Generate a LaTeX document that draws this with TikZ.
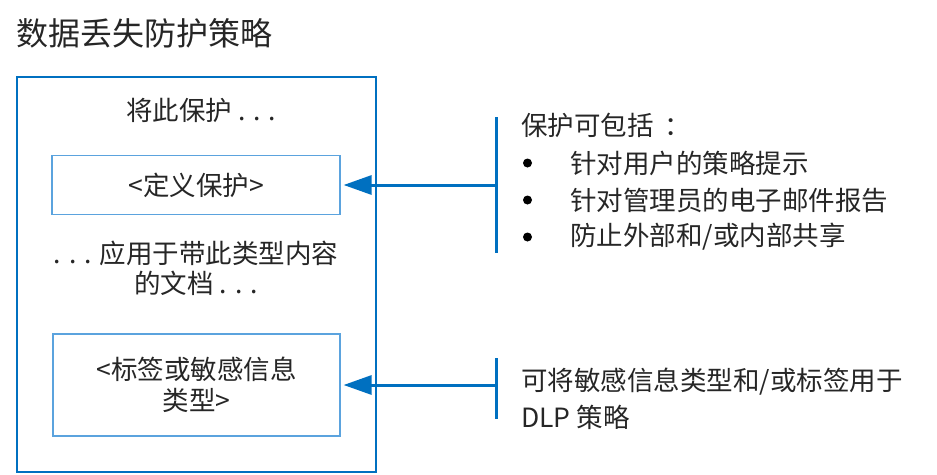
\documentclass[tikz,border=0pt]{standalone}
\usepackage{fontspec}
\setmainfont{Noto Sans CJK SC}
\usetikzlibrary{arrows.meta}
\definecolor{frameblue}{HTML}{0070C0}
\definecolor{boxblue}{HTML}{5BA3DE}
\definecolor{ink}{HTML}{262626}
\begin{document}
\begin{tikzpicture}[x=1pt,y=-1pt,
  every node/.style={text=ink, inner sep=0pt},
  body/.style={font=\fontsize{26.5}{30}\selectfont},
  outerframe/.style={draw=frameblue, line width=2.6pt},
  innerbox/.style={draw=boxblue, line width=1.2pt},
  bar/.style={draw=frameblue, line width=3pt},
  feed/.style={draw=frameblue, line width=3pt,
    -{Triangle[length=28pt,width=19pt]}, shorten >=3pt},
  dot/.style={circle, fill=black, minimum size=9pt}]
  \useasboundingbox (0,0) rectangle (937,474);

  % title
  \node[anchor=west, font=\fontsize{32}{36}\selectfont] (title) at (16,33) {数据丢失防护策略};

  % policy frame and its two placeholders
  \node[outerframe, minimum width=359pt, minimum height=395pt] (frame) at (196.5,274.5) {};
  \node[body] (lead) at (201,110) {将此保护 . . .};
  \node[innerbox, minimum width=288pt, minimum height=59pt, body] (protect) at (196,185) {<定义保护>};
  \node[body, align=center] (applies) at (196,268) {. . . 应用于带此类型内容\\的文档 . . .};
  \node[innerbox, minimum width=287pt, minimum height=102pt, body, align=center,
        font=\fontsize{26.5}{31}\selectfont] (types) at (196.5,385) {<标签或敏感信息\\类型>};

  % callout bars
  \coordinate (bar1top) at (496,117);
  \coordinate (bar1bot) at (496,253);
  \coordinate (bar1mid) at (496,185);
  \coordinate (bar2top) at (496,358);
  \coordinate (bar2bot) at (496,419);
  \coordinate (bar2mid) at (496,385);
  \draw[bar] (bar1top) -- (bar1bot);
  \draw[bar] (bar2top) -- (bar2bot);
  \draw[feed] (bar1mid) -- (protect.east);
  \draw[feed] (bar2mid) -- (types.east);

  % first callout text
  \node[body, anchor=west] (incl) at (521,125) {保护可包括\kern0.4em：};
  \node[dot] (d1) at (527.5,163) {};
  \node[dot] (d2) at (527.5,200) {};
  \node[dot] (d3) at (527.5,237) {};
  \node[body, anchor=west] (i1) at (570,163) {针对用户的策略提示};
  \node[body, anchor=west] (i2) at (570,200) {针对管理员的电子邮件报告};
  \node[body, anchor=west] (i3) at (570,237) {防止外部和/或内部共享};

  % second callout text
  \node[body, anchor=west, align=left, font=\fontsize{26.5}{37}\selectfont] (use) at (521,398.5)
    {可将敏感信息类型和/或标签用于\\DLP 策略};
\end{tikzpicture}
\end{document}
